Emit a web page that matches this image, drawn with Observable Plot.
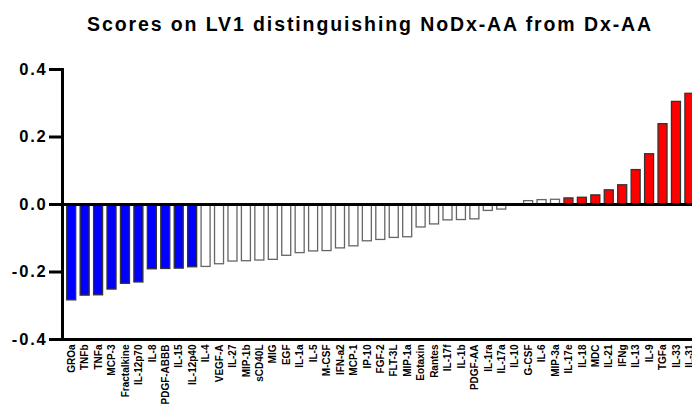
<!DOCTYPE html>
<html>
<head>
<meta charset="utf-8">
<script src="https://cdn.jsdelivr.net/npm/d3@7"></script>
<script src="https://cdn.jsdelivr.net/npm/@observablehq/plot@0.6"></script>
<style>
  html, body { margin: 0; padding: 0; background: #fff; overflow: hidden; width: 692px; height: 410px; }
  #title { position: absolute; top: 15px; left: 48px; right: 0; text-align: center;
    font: bold 19.5px "Liberation Sans", Arial, sans-serif; line-height: 19.5px; letter-spacing: 1.9px; color: #000; }
  #chart { position: absolute; top: 50px; left: 0; width: 692px; }
  #chart g[aria-label="x-axis tick label"] { font-size: 10px !important; font-weight: bold; }
  #chart g[aria-label="x-axis tick label"] text { font-size: 10px !important; }
  #chart g[aria-label="y-axis tick label"] { font-size: 16.5px !important; font-weight: bold; }
  #chart g[aria-label="y-axis tick label"] text { font-size: 16.5px !important; letter-spacing: 1.8px; }
</style>
</head>
<body>
<div id="title">Scores on LV1 distinguishing NoDx-AA from Dx-AA</div>
<div id="chart"></div>
<script>
const names = ["GROa","TNFb","TNFa","MCP-3","Fractalkine","IL-12p70","IL-8","PDGF-ABBB","IL-15","IL-12p40",
  "IL-4","VEGF-A","IL-27","MIP-1b","sCD40L","MIG","EGF","IL-1a","IL-5","M-CSF","IFN-a2","MCP-1","IP-10","FGF-2",
  "FLT-3L","MIP-1a","Eotaxin","Rantes","IL-17f","IL-1b","PDGF-AA","IL-1ra","IL-17a","IL-10","G-CSF","IL-6","MIP-3a",
  "IL-17e","IL-18","MDC","IL-21","IFNg","IL-13","IL-9","TGFa","IL-33","IL-31"];
const values = [-0.284,-0.270,-0.269,-0.252,-0.235,-0.231,-0.192,-0.191,-0.190,-0.186,
  -0.185,-0.177,-0.169,-0.168,-0.166,-0.164,-0.152,-0.144,-0.139,-0.138,
  -0.130,-0.124,-0.109,-0.105,-0.099,-0.097,-0.068,-0.059,-0.047,-0.046,
  -0.044,-0.019,-0.015,-0.002,0.010,0.013,0.014,
  0.018,0.020,0.027,0.042,0.057,0.102,0.149,0.238,0.304,0.328];
const groups = [
  "down","down","down","down","down","down","down","down","down","down",
  "ns","ns","ns","ns","ns","ns","ns","ns","ns","ns","ns","ns","ns","ns","ns","ns","ns","ns","ns","ns","ns","ns","ns","ns","ns","ns","ns",
  "up","up","up","up","up","up","up","up","up","up"];
const groupNames = ["down","ns","up"];
const groupColors = ["#0000ff","#ffffff","#ff0000"];
const groupStrokes = ["#333333","#666666","#333333"];
const yTicks = [-0.4,-0.2,0.0,0.2,0.4];

const data = names.map((n, i) => ({name: n, value: values[i], group: groups[i],
  stroke: groupStrokes[groupNames.indexOf(groups[i])]}));

const chart = Plot.plot({
  width: 692, height: 360,
  marginTop: 19, marginBottom: 71, marginLeft: 62, marginRight: 0,
  style: {fontFamily: "'Liberation Sans', Arial, sans-serif", color: "#000", background: "#fff"},
  x: {domain: names, range: [62, 698.6], paddingInner: 0.33, paddingOuter: 0.35, align: 0.5, round: false},
  y: {domain: [-0.4, 0.4]},
  color: {domain: groupNames, range: groupColors},
  marks: [
    Plot.barY(data, {x: "name", y: "value", fill: "group", stroke: "stroke", strokeWidth: 1.3}),
    Plot.ruleY([0], {stroke: "#000", strokeWidth: 3}),
    Plot.ruleY([-0.4], {stroke: "#000", strokeWidth: 3}),
    Plot.frame({anchor: "left", stroke: "#000", strokeWidth: 3}),
    Plot.axisY({ticks: yTicks, tickFormat: d => d.toFixed(1), tickSize: 13, tickPadding: 2,
      stroke: "#000", strokeWidth: 3, fontSize: 16.5, fontWeight: "bold", label: null}),
    Plot.axisX({tickRotate: -90, tickSize: 0, tickPadding: 5, fontSize: 10, fontWeight: "bold", label: null})
  ]
});
document.getElementById("chart").appendChild(chart);
</script>
</body>
</html>
